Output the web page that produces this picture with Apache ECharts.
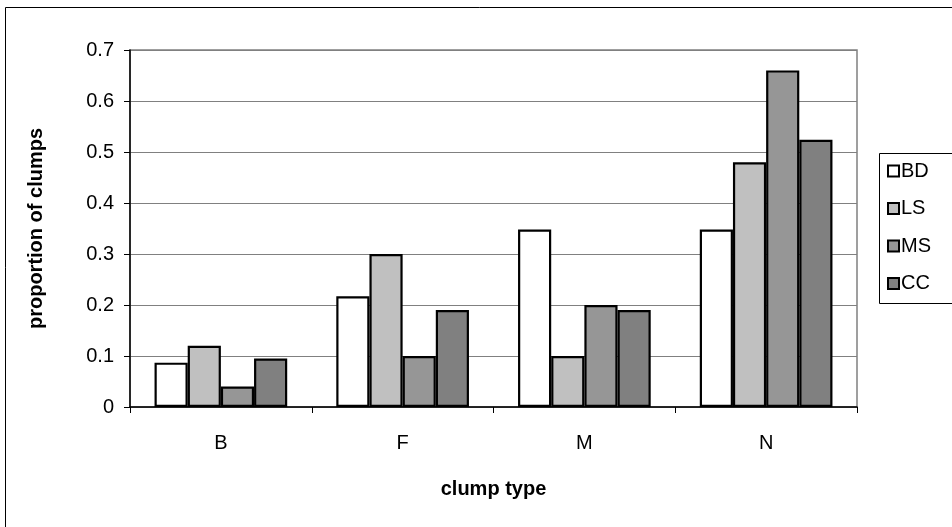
<!DOCTYPE html>
<html>
<head>
<meta charset="utf-8">
<script src="https://cdn.jsdelivr.net/npm/echarts@6/dist/echarts.min.js"></script>
<style>
  html, body { margin: 0; padding: 0; background: #ffffff; }
  #chart { width: 952px; height: 527px; }
</style>
</head>
<body>
<div id="chart"></div>
<script>
// Clump types along the x axis
const categories = ['B', 'F', 'M', 'N'];

// Proportion of clumps per group
const seriesNames = ['BD', 'LS', 'MS', 'CC'];
const valuesBD = [0.087, 0.217, 0.348, 0.348];
const valuesLS = [0.12, 0.30, 0.10, 0.48];
const valuesMS = [0.04, 0.10, 0.20, 0.66];
const valuesCC = [0.095, 0.19, 0.19, 0.524];

// Y axis ticks
const yMin = 0;
const yMax = 0.7;
const yStep = 0.1;

const fills = ['#ffffff', '#c0c0c0', '#969696', '#808080'];
const allValues = [valuesBD, valuesLS, valuesMS, valuesCC];
const FONT = '"Liberation Sans", Arial, sans-serif';

const chart = echarts.init(document.getElementById('chart'), null, { renderer: 'canvas' });

const series = seriesNames.map((name, i) => ({
  name: name,
  type: 'bar',
  data: allValues[i],
  barGap: '0%',
  barCategoryGap: '27%',
  itemStyle: { color: fills[i], borderColor: '#000000', borderWidth: 2.2 },
  emphasis: { disabled: true }
}));

chart.setOption({
  animation: false,
  backgroundColor: '#ffffff',
  textStyle: { fontFamily: FONT, color: '#000000' },
  grid: {
    left: 130, right: 95, top: 50, bottom: 120,
    show: true, borderColor: '#808080', borderWidth: 1.5, backgroundColor: 'transparent'
  },
  graphic: [
    { type: 'rect', shape: { x: 5.5, y: 7.5, width: 960, height: 540 },
      style: { fill: 'none', stroke: '#000000', lineWidth: 1 }, z: -10, silent: true },
    { type: 'rect', shape: { x: 879.5, y: 153.5, width: 90, height: 150 },
      style: { fill: '#ffffff', stroke: '#000000', lineWidth: 1 }, z: 1, silent: true }
  ],
  legend: {
    data: seriesNames,
    orient: 'vertical',
    left: 887,
    top: 161,
    padding: 0,
    itemWidth: 11,
    itemHeight: 11,
    itemGap: 17.5,
    icon: 'rect',
    z: 5,
    textStyle: { fontFamily: FONT, fontSize: 20, color: '#000000', padding: [0, 0, 0, -3], lineHeight: 20 },
    selectedMode: false
  },
  xAxis: {
    type: 'category',
    data: categories,
    name: 'clump type',
    nameLocation: 'middle',
    nameGap: 72,
    nameTextStyle: { fontFamily: FONT, fontSize: 20, fontWeight: 'bold', color: '#000000' },
    axisLine: { lineStyle: { color: '#000000', width: 1.5 } },
    axisTick: { show: true, length: 6, lineStyle: { color: '#000000', width: 1 } },
    axisLabel: { fontFamily: FONT, fontSize: 20, color: '#000000', margin: 26 },
    splitLine: { show: false }
  },
  yAxis: {
    type: 'value',
    min: yMin,
    max: yMax,
    interval: yStep,
    name: 'proportion of clumps',
    nameLocation: 'middle',
    nameGap: 84,
    nameRotate: 90,
    nameTextStyle: { fontFamily: FONT, fontSize: 20, fontWeight: 'bold', color: '#000000' },
    axisLine: { show: true, lineStyle: { color: '#000000', width: 1.5 } },
    axisTick: { show: true, length: 6, lineStyle: { color: '#000000', width: 1 } },
    axisLabel: { fontFamily: FONT, fontSize: 20, color: '#000000', margin: 16,
      formatter: v => String(Math.round(v * 10) / 10) },
    splitLine: { show: true, lineStyle: { color: '#808080', width: 1.2 } }
  },
  series: series
});
</script>
</body>
</html>
